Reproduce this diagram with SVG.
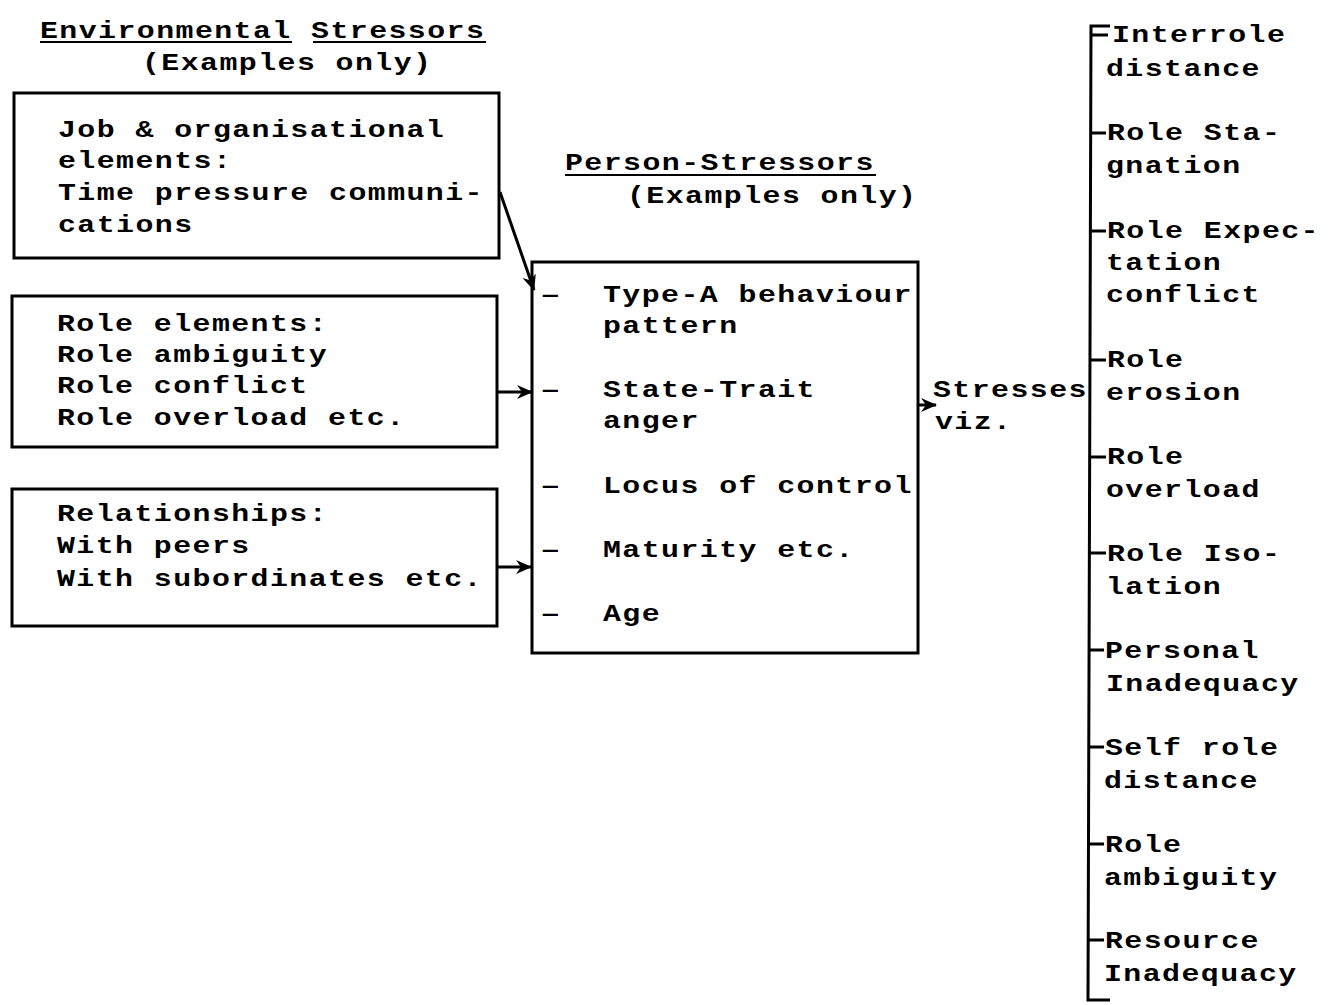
<svg xmlns="http://www.w3.org/2000/svg" width="1339" height="1005" viewBox="0 0 1339 1005">
<defs>
<style>
text{font-family:"Liberation Mono","DejaVu Sans Mono",monospace;font-size:23px;letter-spacing:1.1px;fill:#000;font-weight:bold}
.box{fill:none;stroke:#000;stroke-width:3}
.ln{fill:none;stroke:#000;stroke-width:3}
.ul{stroke:#000;stroke-width:2}
</style>
<marker id="ah" markerWidth="16" markerHeight="16" refX="15" refY="8" orient="auto" markerUnits="userSpaceOnUse" viewBox="0 0 16 16">
<path d="M0,1 L16,8 L0,15 L5,8 Z" fill="#000"/>
</marker>
</defs>
<rect width="1339" height="1005" fill="#fff"/>

<g id="env-title">
<text transform="translate(40,38) scale(1.3,1)">Environmental Stressors</text>
<line class="ul" x1="40" y1="42" x2="292" y2="42"/>
<line class="ul" x1="313" y1="42" x2="486" y2="42"/>
<text transform="translate(142,70) scale(1.3,1)">(Examples only)</text>
</g>

<g id="job-box">
<rect class="box" x="14" y="93" width="485" height="165"/>
<text transform="translate(58,137) scale(1.3,1)">Job &amp; organisational</text>
<text transform="translate(58,168) scale(1.3,1)">elements:</text>
<text transform="translate(58,200) scale(1.3,1)">Time pressure communi-</text>
<text transform="translate(58,232) scale(1.3,1)">cations</text>
</g>

<g id="role-box">
<rect class="box" x="12" y="296" width="485" height="151"/>
<text transform="translate(57,331) scale(1.3,1)">Role elements:</text>
<text transform="translate(57,362) scale(1.3,1)">Role ambiguity</text>
<text transform="translate(57,393) scale(1.3,1)">Role conflict</text>
<text transform="translate(57,425) scale(1.3,1)">Role overload etc.</text>
</g>

<g id="rel-box">
<rect class="box" x="12" y="489" width="485" height="137"/>
<text transform="translate(57,521) scale(1.3,1)">Relationships:</text>
<text transform="translate(57,553) scale(1.3,1)">With peers</text>
<text transform="translate(57,586) scale(1.3,1)">With subordinates etc.</text>
</g>

<g id="person-title">
<text transform="translate(565,170) scale(1.3,1)">Person-Stressors</text>
<line class="ul" x1="565" y1="175" x2="876" y2="175"/>
<text transform="translate(627,203) scale(1.3,1)">(Examples only)</text>
</g>

<g id="person-box">
<rect class="box" x="532" y="262" width="386" height="391"/>
<text transform="translate(540,302) scale(1.5,1)">–</text><text transform="translate(603,302) scale(1.3,1)">Type-A behaviour</text>
<text transform="translate(603,333) scale(1.3,1)">pattern</text>
<text transform="translate(540,397) scale(1.5,1)">–</text><text transform="translate(603,397) scale(1.3,1)">State-Trait</text>
<text transform="translate(603,428) scale(1.3,1)">anger</text>
<text transform="translate(540,493) scale(1.5,1)">–</text><text transform="translate(603,493) scale(1.3,1)">Locus of control</text>
<text transform="translate(540,557) scale(1.5,1)">–</text><text transform="translate(603,557) scale(1.3,1)">Maturity etc.</text>
<text transform="translate(540,621) scale(1.5,1)">–</text><text transform="translate(603,621) scale(1.3,1)">Age</text>
</g>

<g id="stresses">
<text transform="translate(933,397) scale(1.3,1)">Stresses</text>
<text transform="translate(935,429) scale(1.3,1)">viz.</text>
</g>

<g id="stress-list">
<text transform="translate(1112,42) scale(1.3,1)">Interrole</text>
<text transform="translate(1106,76) scale(1.3,1)">distance</text>
<text transform="translate(1107,140) scale(1.3,1)">Role Sta-</text>
<text transform="translate(1106,173) scale(1.3,1)">gnation</text>
<text transform="translate(1107,238) scale(1.3,1)">Role Expec-</text>
<text transform="translate(1106,270) scale(1.3,1)">tation</text>
<text transform="translate(1106,302) scale(1.3,1)">conflict</text>
<text transform="translate(1107,367) scale(1.3,1)">Role</text>
<text transform="translate(1106,400) scale(1.3,1)">erosion</text>
<text transform="translate(1107,464) scale(1.3,1)">Role</text>
<text transform="translate(1106,497) scale(1.3,1)">overload</text>
<text transform="translate(1107,561) scale(1.3,1)">Role Iso-</text>
<text transform="translate(1106,594) scale(1.3,1)">lation</text>
<text transform="translate(1105,658) scale(1.3,1)">Personal</text>
<text transform="translate(1106,691) scale(1.3,1)">Inadequacy</text>
<text transform="translate(1105,755) scale(1.3,1)">Self role</text>
<text transform="translate(1104,788) scale(1.3,1)">distance</text>
<text transform="translate(1105,852) scale(1.3,1)">Role</text>
<text transform="translate(1104,885) scale(1.3,1)">ambiguity</text>
<text transform="translate(1105,948) scale(1.3,1)">Resource</text>
<text transform="translate(1104,981) scale(1.3,1)">Inadequacy</text>
</g>

<g id="connectors">
<line class="ln" x1="500" y1="192" x2="534" y2="290" marker-end="url(#ah)"/>
<line class="ln" x1="497" y1="392" x2="532" y2="392" marker-end="url(#ah)"/>
<line class="ln" x1="497" y1="567" x2="531" y2="567" marker-end="url(#ah)"/>
<line class="ln" x1="918" y1="405" x2="936" y2="405" marker-end="url(#ah)"/>
<path class="ln" d="M1110,26 L1091,26 L1088,1000 L1110,1000"/>
<path class="ln" d="M1091,35 L1108,35 M1091,133 L1106,133 M1091,231 L1106,231 M1090,360 L1106,360 M1090,457 L1106,457 M1090,553 L1106,553 M1089,650 L1104,650 M1089,747 L1104,747 M1089,844 L1104,844 M1089,940 L1104,940"/>
</g>
</svg>
